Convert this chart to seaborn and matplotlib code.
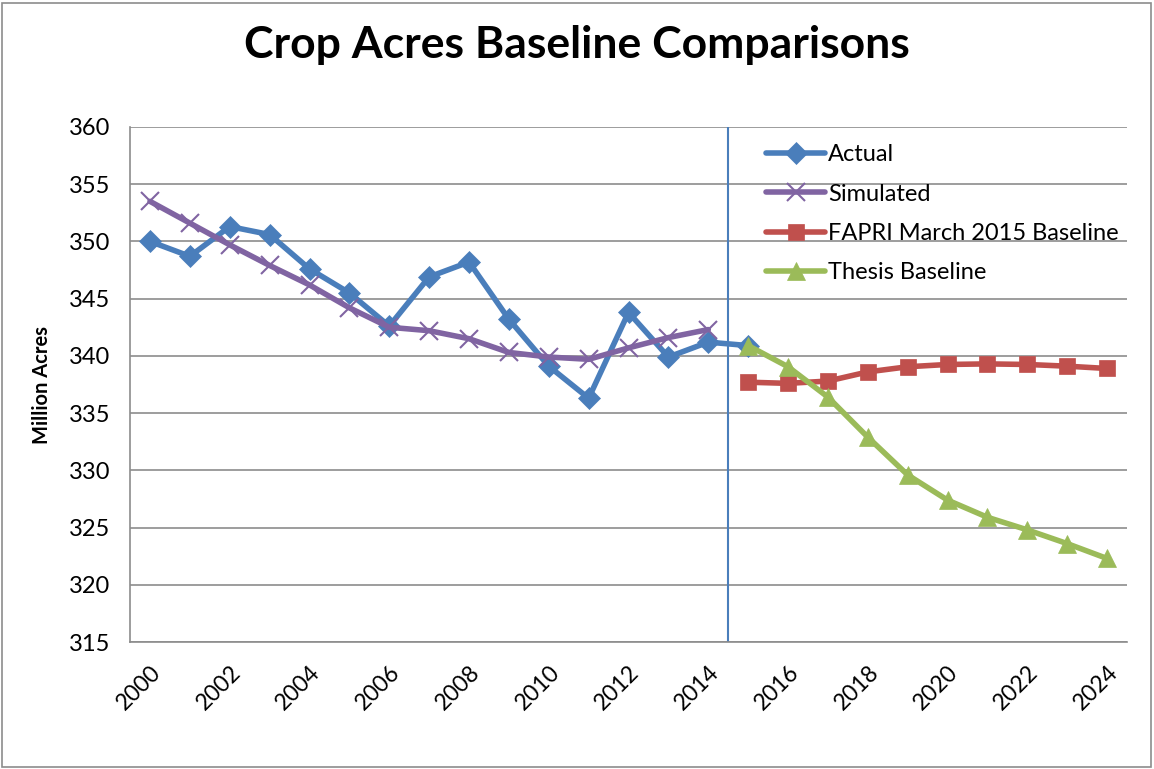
import numpy as np
import pandas as pd
import matplotlib.pyplot as plt
import seaborn as sns
from matplotlib.patches import Rectangle

# values (million acres)
years_hist = list(range(2000, 2016))
actual = [350.0, 348.7, 351.3, 350.6, 347.6, 345.5, 342.6, 346.9, 348.2,
          343.2, 339.1, 336.3, 343.8, 339.9, 341.2, 340.9]
years_sim = list(range(2000, 2015))
simulated = [353.5, 351.6, 349.7, 347.9, 346.2, 344.2, 342.5, 342.2, 341.5,
             340.3, 339.9, 339.7, 340.7, 341.6, 342.3]
years_proj = list(range(2015, 2025))
fapri = [337.7, 337.6, 337.8, 338.6, 339.05, 339.25, 339.3, 339.25, 339.1, 338.9]
thesis = [340.9, 339.05, 336.4, 332.9, 329.6, 327.4, 325.9, 324.8, 323.6, 322.3]

series = [
    ("Actual", years_hist, actual, "#4A7EBB", "D", 11),
    ("Simulated", years_sim, simulated, "#8064A2", "x", 13),
    ("FAPRI March 2015 Baseline", years_proj, fapri, "#C0504D", "s", 11),
    ("Thesis Baseline", years_proj, thesis, "#9BBB59", "^", 13),
]

sns.set_style("white")
plt.rcParams['font.family'] = ['Lato', 'DejaVu Sans']
plt.rcParams['text.color'] = 'black'
plt.rcParams['xtick.labelcolor'] = 'black'
plt.rcParams['ytick.labelcolor'] = 'black'
plt.rcParams['axes.labelcolor'] = 'black'

fig = plt.figure(figsize=(11.54, 7.69), dpi=100)
ax = fig.add_axes([0.1127, 0.1651, 0.8639, 0.6698])

for name, xs, ys, col, mk, ms in series:
    df = pd.DataFrame({"Year": xs, "Acres": ys})
    sns.lineplot(data=df, x="Year", y="Acres", ax=ax, color=col, marker=mk,
                 markersize=ms, linewidth=4, markeredgecolor=col,
                 markeredgewidth=1.5 if mk == "x" else 0.5, label=name)

ax.axvline(2014.5, color="#4A7EBB", linewidth=1.5, zorder=1)

ax.set_xlim(1999.5, 2024.5)
ax.set_ylim(315, 360)
ax.set_yticks(np.arange(315, 361, 5))
ax.yaxis.grid(True, color="#8C8C8C", linewidth=1.2)
ax.set_axisbelow(True)

# labels every two years at category centres, tick marks at category edges
ax.set_xticks(list(range(2000, 2025, 2)))
ax.set_xticklabels([str(y) for y in range(2000, 2025, 2)], rotation=45,
                   ha="right", rotation_mode="anchor", fontsize=16.5)
ax.set_xticks(np.arange(1999.5, 2025, 1), minor=True)
ax.tick_params(axis="x", which="major", length=0, pad=14)
ax.tick_params(axis="x", which="minor", length=6, width=1.2, color="#8C8C8C")
ax.tick_params(axis="y", length=8, width=1.2, color="#8C8C8C", labelsize=17, pad=6)

for side in ["top", "right"]:
    ax.spines[side].set_visible(False)
for side in ["left", "bottom"]:
    ax.spines[side].set_color("#8C8C8C")
    ax.spines[side].set_linewidth(1.2)

ax.set_xlabel("")
ax.set_ylabel("Million Acres", fontsize=14.5, fontweight="bold", labelpad=12)

fig.suptitle("Crop Acres Baseline Comparisons", fontsize=32, fontweight="bold", y=0.968)

ax.legend(loc="upper left", bbox_to_anchor=(0.617, 1.008), frameon=False,
          fontsize=17, handlelength=2.5, handletextpad=0.12, labelspacing=0.78)

fig.add_artist(Rectangle((0.002, 0.003), 0.995, 0.993, transform=fig.transFigure,
                         fill=False, edgecolor="#8C8C8C", linewidth=1.2))

fig.savefig("out.png", dpi=100)
